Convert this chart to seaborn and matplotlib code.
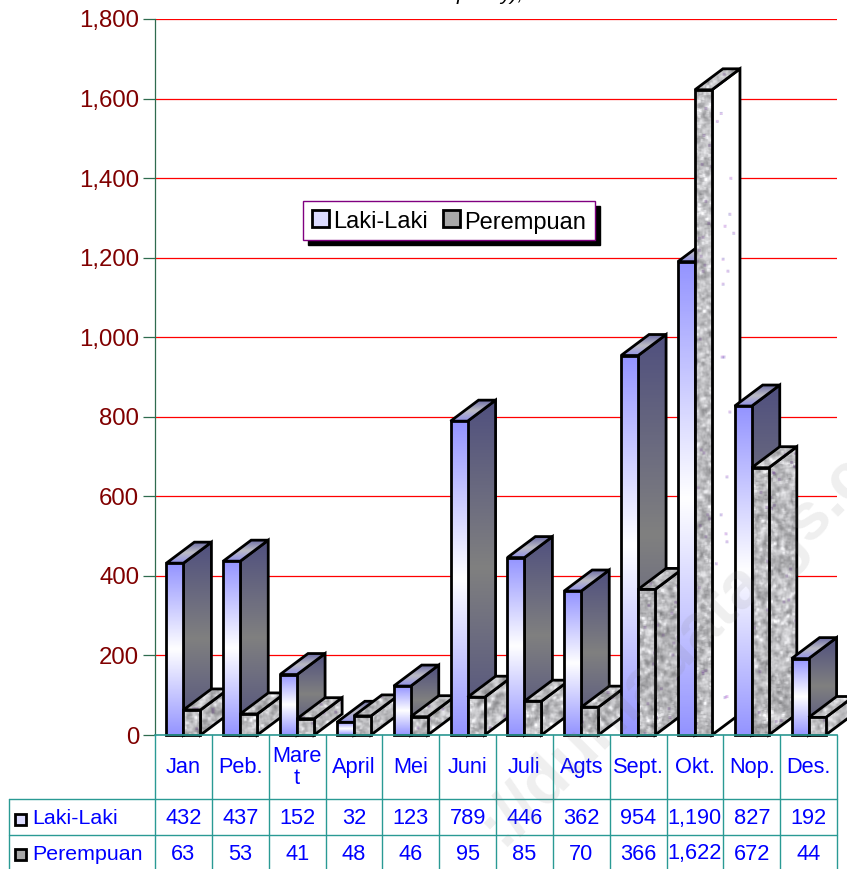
import numpy as np
import pandas as pd
import matplotlib.pyplot as plt
import seaborn as sns
from matplotlib.colors import LinearSegmentedColormap
from matplotlib.patches import Patch, Polygon, Rectangle
from matplotlib.ticker import FuncFormatter

# Data
months = ['Jan', 'Peb.', 'Mare\nt', 'April', 'Mei', 'Juni', 'Juli', 'Agts', 'Sept.', 'Okt.', 'Nop.', 'Des.']
laki = [432, 437, 152, 32, 123, 789, 446, 362, 954, 1190, 827, 192]
perempuan = [63, 53, 41, 48, 46, 95, 85, 70, 366, 1622, 672, 44]
y_ticks = [0, 200, 400, 600, 800, 1000, 1200, 1400, 1600, 1800]

# Sizes in pixels of the reference
W, H = 847, 869
AX_L, AX_R, AX_T, AX_B = 155, 837, 19, 735
DEPTH_X = 28 / 56.83
DEPTH_Y = 21 * 1800 / 716

TEAL = '#2a9a94'
BLUE = '#0000ff'
DARKRED = '#800000'

sns.set_theme(style='white')
plt.rcParams['font.family'] = ['Liberation Sans', 'DejaVu Sans']

df = pd.DataFrame({
    'Bulan': months * 2,
    'Jumlah': laki + perempuan,
    'Jenis': ['Laki-Laki'] * 12 + ['Perempuan'] * 12,
})

fig = plt.figure(figsize=(W / 100, H / 100), dpi=100)
ax = fig.add_axes([AX_L / W, 1 - AX_B / H, (AX_R - AX_L) / W, (AX_B - AX_T) / H])

sns.barplot(data=df, x='Bulan', y='Jumlah', hue='Jenis', hue_order=['Laki-Laki', 'Perempuan'],
            order=months, width=0.6, gap=0, dodge=True, legend=False, ax=ax,
            palette=['#9999ff', '#b0b0b0'], saturation=1)


def px_x(px):
    return (px - AX_L) / (AX_R - AX_L) * 12 - 0.5


def px_y(py):
    return (AX_B - py) / (AX_B - AX_T)


def hash_noise(w, h, cell, seed):
    # deterministic speckle so the marble look stays the same on every run
    j, i = np.meshgrid(np.arange(h // cell + 3), np.arange(w // cell + 3), indexing='ij')
    v = np.sin(i * 12.9898 + j * 78.233 + seed * 37.719) * 43758.5453
    v = v - np.floor(v)
    return np.kron(v, np.ones((cell, cell)))[:h, :w]


def smooth(a, n=3):
    k = np.ones(n) / n
    a = np.apply_along_axis(lambda r: np.convolve(r, k, mode='same'), 0, a)
    return np.apply_along_axis(lambda r: np.convolve(r, k, mode='same'), 1, a)


def marble(w, h, seed):
    w, h = max(w, 4), max(h, 4)
    base = smooth(hash_noise(w + 8, h + 8, 2, seed), 5)[4:h + 4, 4:w + 4]
    fine = smooth(hash_noise(w, h, 1, seed + 1), 2)
    g = 186 + (base - 0.5) * 170 + (fine - 0.5) * 24
    rgb = np.dstack([g, g, g + 3])
    light = smooth((hash_noise(w, h, 1, seed + 3) > 0.985).astype(float), 3)
    rgb = rgb + light[..., None] * 220
    spots = smooth((hash_noise(w, h, 1, seed + 2) > 0.9975).astype(float), 3)
    a = (spots[..., None] * 2.4).clip(0, 1)
    rgb = rgb * (1 - a) + np.array([90, 40, 130]) * a
    return rgb.clip(0, 255).astype(np.uint8)


def dotted_white(w, h, seed):
    rgb = np.full((h, w, 3), 255.0)
    dots = smooth((hash_noise(w, h, 1, seed) > 0.9985).astype(float), 3)
    pick = hash_noise(w, h, 1, seed + 5)
    tint = np.where(pick[..., None] > 0.5, np.array([170, 60, 200]), np.array([70, 60, 170]))
    a = (dots[..., None] * 2.6).clip(0, 1)
    return (rgb * (1 - a) + tint * a).astype(np.uint8)


front_cmap = LinearSegmentedColormap.from_list('front', ['#9494ff', '#ffffff', '#9494ff'])
side_cmap = LinearSegmentedColormap.from_list('side', ['#50507e', '#808080', '#50507e'])
top_cmap = LinearSegmentedColormap.from_list('top', ['#9090e8', '#bcbcc4', '#6e6ea6'])
ramp = np.linspace(0, 1, 128).reshape(-1, 1)


def fill_face(poly, img, cmap, z):
    # image clipped to the face outline, outline stroked on top
    xs, ys = poly[:, 0], poly[:, 1]
    im = ax.imshow(img, cmap=cmap, aspect='auto', origin='lower', interpolation='bilinear',
                   extent=(xs.min(), xs.max(), ys.min(), ys.max()), zorder=z)
    p = Polygon(poly, closed=True, transform=ax.transData, facecolor='none', edgecolor='black',
                linewidth=2.0, joinstyle='miter', zorder=z + 0.1, clip_on=False)
    ax.add_patch(p)
    im.set_clip_path(p)
    im.set_clip_box(fig.bbox)


bars = list(ax.patches)
n_cat = len(months)
y_per_px = 1800 / (AX_B - AX_T)
x_per_px = 12 / (AX_R - AX_L)
for idx, bar in enumerate(bars):
    cat = idx % n_cat
    kind = idx // n_cat
    x0, w, h = bar.get_x(), bar.get_width(), bar.get_height()
    x1 = x0 + w
    z = 10 + (cat * 2 + kind) * 3

    side = np.array([[x1, 0], [x1 + DEPTH_X, DEPTH_Y], [x1 + DEPTH_X, h + DEPTH_Y], [x1, h]])
    top = np.array([[x0, h], [x1, h], [x1 + DEPTH_X, h + DEPTH_Y], [x0 + DEPTH_X, h + DEPTH_Y]])
    front = np.array([[x0, 0], [x1, 0], [x1, h], [x0, h]])

    if kind == 0:
        fill_face(side, ramp, side_cmap, z)
        fill_face(top, ramp, top_cmap, z + 0.3)
        fill_face(front, ramp, front_cmap, z + 0.6)
    else:
        pw_side = int(DEPTH_X / x_per_px) + 2
        ph_side = int((h + DEPTH_Y) / y_per_px) + 2
        pw_front = int(w / x_per_px) + 2
        ph_front = int(h / y_per_px) + 2
        if cat == 9:
            # Okt. side face is nearly white in the reference
            fill_face(side, dotted_white(pw_side, ph_side, cat), None, z)
        else:
            fill_face(side, marble(pw_side, ph_side, cat), None, z)
        fill_face(top, marble(45, 22, cat + 40), None, z + 0.3)
        fill_face(front, marble(pw_front, ph_front, cat + 80), None, z + 0.6)
    bar.set_visible(False)

ax.set_xlim(-0.5, 11.5)
ax.set_ylim(0, 1800)
ax.set_xlabel('')
ax.set_ylabel('')

# Axes
ax.set_yticks(y_ticks)
ax.yaxis.set_major_formatter(FuncFormatter(lambda v, _: f'{int(v):,}'))
ax.tick_params(axis='y', length=8.6, width=0.9, color='#2f6b4f', labelcolor=DARKRED, labelsize=17.3, pad=2.8, left=True)
ax.set_xticks([])
ax.grid(axis='y', color='#ff0000', linewidth=0.9, zorder=1)
ax.set_axisbelow(True)
for name in ['top', 'right']:
    ax.spines[name].set_visible(False)
ax.spines['left'].set_color('#2f6b4f')
ax.spines['left'].set_linewidth(0.9)
ax.spines['bottom'].set_color(TEAL)
ax.spines['bottom'].set_linewidth(1.2)
ax.spines['bottom'].set_zorder(200)

# Data table below the axis
trans = ax.get_xaxis_transform()
row_top, row_1, row_2 = px_y(799), px_y(834.5), px_y(869)
tbl = dict(color=TEAL, linewidth=1.0, transform=trans, clip_on=False, zorder=5)
for k in range(13):
    ax.plot([k - 0.5, k - 0.5], [0, row_2], **tbl)
ax.plot([px_x(9), px_x(9)], [row_top, row_2], **tbl)
ax.plot([px_x(9), 11.5], [row_top, row_top], **tbl)
ax.plot([px_x(9), 11.5], [row_1, row_1], **tbl)

txt = dict(color=BLUE, fontsize=15.7, ha='center', va='center', transform=trans, clip_on=False)
for k, m in enumerate(months):
    ax.text(k, px_y(767.5), m, linespacing=1.12, **txt)
    ax.text(k, px_y(818.5), f'{laki[k]:,}', **txt)
    ax.text(k, px_y(854), f'{perempuan[k]:,}', **txt)

for name, py in [('Laki-Laki', 819), ('Perempuan', 855)]:
    ax.text(px_x(32.5), px_y(py), name, color=BLUE, fontsize=15.4, ha='left', va='center',
            transform=trans, clip_on=False)
for color, py in [('#dcdcff', 813), ('#a8a8a8', 848)]:
    ax.add_patch(Rectangle((px_x(15), px_y(py + 12)), 11 * x_per_px, 11 / (AX_B - AX_T), transform=trans,
                           facecolor=color, edgecolor='black', linewidth=2.0, clip_on=False, zorder=6))

# Legend
handles = [Patch(facecolor='#dcdcff', edgecolor='black', linewidth=2.0, label='Laki-Laki'),
           Patch(facecolor='#a8a8a8', edgecolor='black', linewidth=2.0, label='Perempuan')]
leg = fig.legend(handles=handles, ncol=2, loc='center', bbox_to_anchor=(449 / W, 1 - 220.5 / H),
                 frameon=True, fancybox=False, framealpha=1, edgecolor='#800080', facecolor='white',
                 shadow={'color': 'black', 'alpha': 1, 'ox': 3.6, 'oy': -3.6},
                 fontsize=17, handlelength=0.72, handleheight=0.72, handletextpad=0.16,
                 columnspacing=0.68, borderpad=0.36, borderaxespad=0, labelcolor='black')
leg.get_frame().set_linewidth(1.0)
leg.set_zorder(300)
for t in leg.get_texts():
    t.set_y(-2)

# Only the descenders of the cut-off title stay inside the picture
fig.text(457 / W, 1 - 0.5 / H, 'p', fontsize=15, fontstyle='italic', color='black', ha='left', va='baseline')
fig.text(500 / W, 1 - 0.5 / H, 'y),', fontsize=15, fontstyle='italic', color='black', ha='left', va='baseline')

# Faint watermark across the lower right
fig.text(490 / W, 1 - 835 / H, '://duniadata.gs.co', fontsize=48, fontweight='bold', color='#808080', alpha=0.13,
         rotation=45, ha='left', va='center', rotation_mode='anchor', zorder=500)

plt.savefig('out.png', dpi=100)
plt.close()
